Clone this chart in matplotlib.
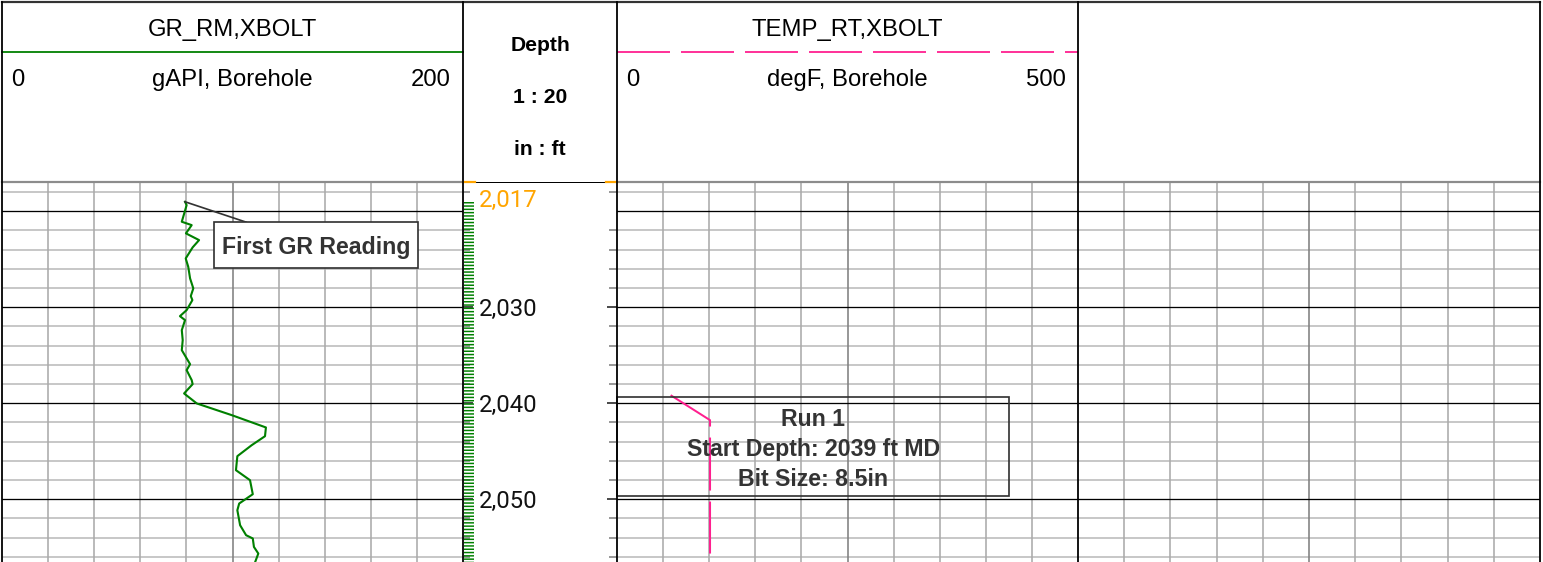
import numpy as np
import matplotlib
matplotlib.use("Agg")
import matplotlib.pyplot as plt
from matplotlib.patches import Rectangle
from matplotlib import transforms as mtrans

plt.rcParams["lines.scale_dashes"] = False

# ---------------- data ----------------
gr_depth = [2019.03, 2019.38, 2021.11, 2021.46, 2022.32, 2023.02, 2023.78, 2024.93,
            2025.80, 2027.01, 2028.05, 2028.85, 2029.27, 2030.31, 2030.94, 2031.35,
            2032.40, 2033.44, 2034.48, 2035.94, 2036.56, 2037.60, 2038.02, 2038.99,
            2040.03, 2041.25, 2042.53, 2043.44, 2044.38, 2045.52, 2046.98, 2048.02,
            2049.48, 2050.45, 2051.15, 2052.71, 2053.75, 2054.09, 2054.97, 2055.66,
            2056.56, 2057.40]
gr_value = [79.4, 80.1, 78.0, 82.3, 79.8, 85.5, 82.7, 79.7,
            80.8, 81.6, 83.0, 81.9, 82.6, 80.1, 77.2, 79.4,
            78.0, 78.4, 78.0, 81.6, 80.1, 82.3, 82.7, 79.0,
            84.5, 99.7, 114.5, 114.1, 108.3, 102.1, 101.5, 107.6,
            108.8, 102.9, 102.1, 103.3, 105.9, 108.8, 109.3, 111.2,
            109.8, 108.0]

temp_depth = [2039.17, 2041.77, 2055.66]
temp_value = [58.2, 100.9, 100.9]

depth_major = [2030, 2040, 2050]
top_depth_label = 2017

gr_name, gr_unit, gr_min, gr_max = "GR_RM,XBOLT", "gAPI, Borehole", 0, 200
temp_name, temp_unit, temp_min, temp_max = "TEMP_RT,XBOLT", "degF, Borehole", 0, 500
depth_header = ["Depth", "1 : 20", "in : ft"]

first_gr_text = "First GR Reading"
run_text = ["Run 1", "Start Depth: 2039 ft MD", "Bit Size: 8.5in"]

# ---------------- layout ----------------
W, H, DPI = 1543, 562, 100
PT = 72.0 / DPI
DEPTH_TOP, DEPTH_BOTTOM = 2016.97, 2056.54
HEAD_TOP, HEAD_BOT = 1.5, 182.0
X_GR, X_DEP, X_TEMP, X_EMPTY, X_END = 2.0, 463.0, 617.0, 1078.0, 1540.0

GR_COLOR = "#008000"
TEMP_COLOR = "#ff1f8f"
ANN_COLOR = "#333333"

fig = plt.figure(figsize=(W / DPI, H / DPI), dpi=DPI)
fig.patch.set_facecolor("white")


def px_axes(x0, y0, x1, y1, z=1):
    ax = fig.add_axes([x0 / W, 1 - y1 / H, (x1 - x0) / W, (y1 - y0) / H], zorder=z)
    ax.set_axis_off()
    return ax


def track(x0, x1, lo, hi):
    ax = px_axes(x0, HEAD_BOT, x1, H)
    ax.set_xlim(lo, hi)
    ax.set_ylim(DEPTH_BOTTOM, DEPTH_TOP)
    for d in range(2018, 2058, 2):
        if d % 10:
            ax.axhline(d, color="#c8c8c8", lw=2.0 * PT, zorder=1)
    for i in range(1, 10):
        x = lo + i * (hi - lo) / 10
        ax.axvline(x, color="#808080" if i == 5 else "#ababab", lw=1.6 * PT, zorder=1.5)
    for d in range(2020, 2058, 10):
        ax.axhline(d, color="black", lw=1.3 * PT, zorder=2)
    return ax


ax_gr = track(X_GR, X_DEP, gr_min, gr_max)
ax_temp = track(X_TEMP, X_EMPTY, temp_min, temp_max)
ax_empty = track(X_EMPTY, X_END, 0, 10)

# GR curve
ax_gr.plot(gr_value, gr_depth, color=GR_COLOR, lw=2.1 * PT, zorder=3)
# first reading annotation
bx0, bx1, bd0, bd1 = 92.0, 180.6, 2021.15, 2025.93
ax_gr.plot([gr_value[0], 105.9], [gr_depth[0], bd0], color=ANN_COLOR, lw=1.7 * PT, zorder=4)
ax_gr.add_patch(Rectangle((bx0, bd0), bx1 - bx0, bd1 - bd0, facecolor="white",
                          edgecolor=ANN_COLOR, lw=1.7 * PT, zorder=4))
ax_gr.text((bx0 + bx1) / 2, (bd0 + bd1) / 2 + 0.2, first_gr_text, ha="center", va="center",
           fontsize=16.7, fontweight="bold", color=ANN_COLOR, family="Liberation Sans", zorder=5)

# TEMP curve
ax_temp.plot(temp_value, temp_depth, color=TEMP_COLOR, lw=2.0 * PT,
             dashes=(53 * PT, 11 * PT), zorder=3)
ax_temp.add_patch(Rectangle((0, 2039.41), 425.5, 2049.65 - 2039.41, facecolor="none",
                            edgecolor=ANN_COLOR, lw=1.7 * PT, zorder=4, clip_on=False))
for txt, d in zip(run_text, [2041.75, 2044.87, 2047.99]):
    ax_temp.text(212.7, d, txt, ha="center", va="center", fontsize=16.7, fontweight="bold",
                 color=ANN_COLOR, family="Liberation Sans", zorder=5)

# Depth track
ax_dep = px_axes(X_DEP, HEAD_BOT, X_TEMP, H, z=2)
ax_dep.set_xlim(X_DEP, X_TEMP)
ax_dep.set_ylim(DEPTH_BOTTOM, DEPTH_TOP)
minor = [d for d in range(2018, 2058, 2) if d % 10]
ax_dep.hlines(minor, X_DEP, X_DEP + 7, color="#9a9a9a", lw=2.0 * PT)
ax_dep.hlines(minor, X_TEMP - 8, X_TEMP, color="#9a9a9a", lw=2.0 * PT)
ax_dep.hlines(depth_major, X_DEP, X_DEP + 10, color="#222222", lw=1.6 * PT)
ax_dep.hlines(depth_major, X_TEMP - 10, X_TEMP, color="#222222", lw=1.6 * PT)
ax_dep.plot([X_DEP + 6, X_DEP + 6], [gr_depth[0], gr_depth[-1]], color=GR_COLOR,
            lw=10 * PT, dashes=(1.5 * PT, 1.8 * PT), dash_capstyle="butt", zorder=3)
lab = mtrans.offset_copy(ax_dep.transData, fig=fig, x=0, y=-2.5 * PT, units="points")
for d in depth_major:
    ax_dep.text(X_DEP + 16, d, f"{d:,}", ha="left", va="center", fontsize=17.2,
                family="Roboto", color="#111111", transform=lab)
off = mtrans.offset_copy(ax_dep.transData, fig=fig, x=0, y=-6.5 * PT, units="points")
ax_dep.text(X_DEP + 16, DEPTH_TOP, f"{top_depth_label:,}", ha="left", va="top",
            fontsize=17.2, family="Roboto", color="#ffa500", transform=off)

# ---------------- overlay: header + frame ----------------
ov = px_axes(0, 0, W, H, z=10)
ov.set_xlim(0, W)
ov.set_ylim(H, 0)
ov.patch.set_alpha(0)

hfont = dict(family="Liberation Sans", fontsize=17.2, color="black")
# GR header
ov.text((X_GR + X_DEP) / 2, 30, gr_name, ha="center", va="center", **hfont)
ov.plot([X_GR, X_DEP], [52, 52], color=GR_COLOR, lw=1.8 * PT)
ov.text(X_GR + 9, 80, str(gr_min), ha="left", va="center", **hfont)
ov.text((X_GR + X_DEP) / 2, 80, gr_unit, ha="center", va="center", **hfont)
ov.text(X_DEP - 12, 80, str(gr_max), ha="right", va="center", **hfont)
# TEMP header
ov.text((X_TEMP + X_EMPTY) / 2, 30, temp_name, ha="center", va="center", **hfont)
ov.plot([X_TEMP, X_EMPTY], [52, 52], color=TEMP_COLOR, lw=1.8 * PT, dashes=(53 * PT, 11 * PT))
ov.text(X_TEMP + 9, 80, str(temp_min), ha="left", va="center", **hfont)
ov.text((X_TEMP + X_EMPTY) / 2, 80, temp_unit, ha="center", va="center", **hfont)
ov.text(X_EMPTY - 12, 80, str(temp_max), ha="right", va="center", **hfont)
# Depth header
for txt, y in zip(depth_header, [45.5, 97.5, 149.5]):
    ov.text((X_DEP + X_TEMP) / 2, y, txt, ha="center", va="center", fontsize=15.2,
            fontweight="bold", family="Liberation Sans", color="black")

# header bottom lines
ov.plot([X_GR, X_DEP], [HEAD_BOT, HEAD_BOT], color="#8c8c8c", lw=2.2 * PT)
ov.plot([X_TEMP, X_END], [HEAD_BOT, HEAD_BOT], color="#8c8c8c", lw=2.2 * PT)
ov.plot([X_DEP, X_TEMP], [HEAD_BOT, HEAD_BOT], color="black", lw=1.0 * PT)
ov.plot([X_DEP, X_DEP + 12], [HEAD_BOT, HEAD_BOT], color="#ffa500", lw=2.2 * PT)
ov.plot([X_TEMP - 11, X_TEMP], [HEAD_BOT, HEAD_BOT], color="#ffa500", lw=2.2 * PT)
# frame
ov.plot([1.5, X_END], [1.5, 1.5], color="#333333", lw=2.2 * PT)
for x in [1.5, X_DEP, X_TEMP, X_EMPTY, X_END]:
    ov.plot([x, x], [1.5, H], color="black", lw=1.8 * PT)

fig.savefig("out.png", dpi=DPI, facecolor="white")
